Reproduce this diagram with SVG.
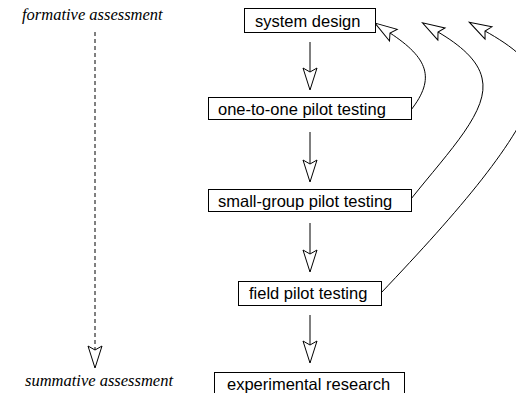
<svg xmlns="http://www.w3.org/2000/svg" width="516" height="393" viewBox="0 0 516 393">
<style>
.box{fill:#fff;stroke:#000;stroke-width:1}
.lbl{font-family:"Liberation Sans",Arial,sans-serif;font-size:16.5px;fill:#000}
.it{font-family:"Liberation Serif","Times New Roman",serif;font-style:italic;font-size:16.5px;fill:#000}
.edge{fill:none;stroke:#000;stroke-width:1}
.dash{stroke-dasharray:4,3}
</style>
<defs>
<marker id="ah" markerUnits="userSpaceOnUse" viewBox="-6 -9 26 18" markerWidth="26" markerHeight="18" refX="0" refY="0" orient="auto" overflow="visible">
<path d="M-4,-7 L18,0 L-4,7 L0,0 Z" fill="#fff" stroke="#000" stroke-width="1" stroke-dasharray="none"/>
</marker>
</defs>
<rect width="516" height="393" fill="#fff"/>
<g id="connectors">
<path class="edge" d="M310,42 L310,72" marker-end="url(#ah)"/>
<path class="edge" d="M310,132 L310,164" marker-end="url(#ah)"/>
<path class="edge" d="M310,223 L310,254" marker-end="url(#ah)"/>
<path class="edge" d="M310,315 L310,345" marker-end="url(#ah)"/>
<path class="edge dash" d="M95,32 L95,350" marker-end="url(#ah)"/>
<path class="edge" d="M411,110 C436,78 428,58 390,33" marker-end="url(#ah)"/>
<path class="edge" d="M411,199 C450,150 490,110 482,78 C478,60 460,45 438,32" marker-end="url(#ah)"/>
<path class="edge" d="M381,293 C460,210 520,140 535,90 C540,65 510,45 485,31" marker-end="url(#ah)"/>
</g>
<g id="formative"><text class="it" x="22" y="20">formative assessment</text></g>
<g id="summative"><text class="it" x="25" y="386">summative assessment</text></g>
<g id="system-design"><rect class="box" x="244.5" y="8.5" width="131" height="24"/><text class="lbl" x="255" y="27">system design</text></g>
<g id="one-to-one"><rect class="box" x="208.5" y="97.5" width="203" height="22"/><text class="lbl" x="218" y="115">one-to-one pilot testing</text></g>
<g id="small-group"><rect class="box" x="208.5" y="189.5" width="203" height="22"/><text class="lbl" x="218" y="207">small-group pilot testing</text></g>
<g id="field"><rect class="box" x="238.5" y="281.5" width="143" height="24"/><text class="lbl" x="249" y="299">field pilot testing</text></g>
<g id="experimental"><rect class="box" x="214.5" y="372.5" width="190" height="30"/><text class="lbl" x="227" y="390">experimental research</text></g>
</svg>
